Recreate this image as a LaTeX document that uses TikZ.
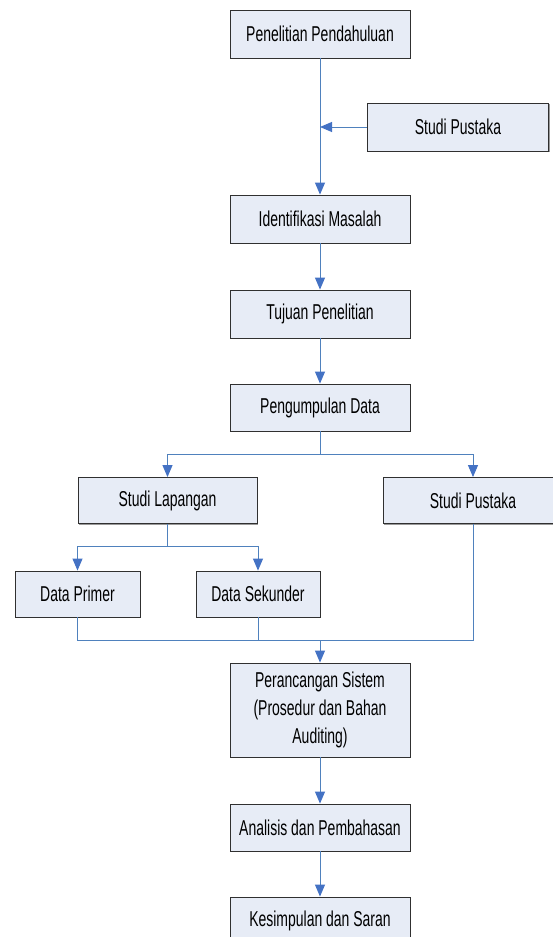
\documentclass[tikz,border=0pt]{standalone}
\usepackage{fontspec}
\setmainfont{Liberation Sans}[FakeStretch=0.65]
\usetikzlibrary{arrows.meta,shadows}
\definecolor{boxfill}{HTML}{E7ECF6}
\definecolor{linecol}{HTML}{4F81BD}
\definecolor{tipcol}{HTML}{4472C4}
\definecolor{edgecol}{HTML}{303030}
\tikzset{
  flowbox/.style={draw=edgecol, line width=0.9pt, fill=boxfill, minimum width=180pt, minimum height=48pt,
    inner sep=0pt, align=center, font=\fontsize{21.5}{28}\selectfont,
    drop shadow={shadow xshift=1.2pt, shadow yshift=-1.2pt, fill=gray!80, opacity=1}},
  conn/.style={draw=linecol, line width=1pt},
  arr/.style={conn, -{Triangle[length=12pt, width=10pt, fill=tipcol, color=tipcol]}},
}
\begin{document}
\begin{tikzpicture}[x=1pt, y=-1pt]
\clip (0,0) rectangle (553,937);
\fill[white] (0,0) rectangle (553,937);
\node[flowbox] (pp) at (320,34) {Penelitian Pendahuluan};
\node[flowbox, minimum width=181pt] (sp1) at (458,127) {Studi Pustaka};
\node[flowbox] (im) at (320,219) {Identifikasi Masalah};
\node[flowbox] (tp) at (320,314) {Tujuan Penelitian};
\node[flowbox, minimum height=47pt] (pd) at (320,407.5) {Pengumpulan Data};
\node[flowbox, minimum width=179pt, minimum height=46pt] (sl) at (167.5,500.5) {Studi Lapangan};
\node[flowbox, minimum height=46pt] (sp2) at (473,500.5) {Studi Pustaka};
\node[flowbox, minimum width=125pt, minimum height=46pt] (dp) at (77.5,594) {Data Primer};
\node[flowbox, minimum width=124pt, minimum height=46pt] (ds) at (258,594) {Data Sekunder};
\node[flowbox, minimum height=94pt] (ps) at (320,710) {Perancangan Sistem\\(Prosedur dan Bahan\\Auditing)};
\node[flowbox, minimum height=47pt] (ap) at (320,827.5) {Analisis dan Pembahasan};
\node[flowbox] (ks) at (320,921) {Kesimpulan dan Saran};

\coordinate (j1) at (320,127);
\coordinate (j2) at (320,454);
\coordinate (j3) at (167.5,546);
\coordinate (j4) at (320,640);

\draw[arr] (pp.south) -- (im.north);
\draw[arr] (sp1.west) -- (j1);
\draw[arr] (im.south) -- (tp.north);
\draw[arr] (tp.south) -- (pd.north);
\draw[conn] (pd.south) -- (j2);
\draw[arr] (j2) -| (sl.north);
\draw[arr] (j2) -| (sp2.north);
\draw[conn] (sl.south) -- (j3);
\draw[arr] (j3) -| (dp.north);
\draw[arr] (j3) -| (ds.north);
\draw[conn] (dp.south) |- (j4);
\draw[conn] (ds.south) |- (j4);
\draw[conn] (sp2.south) |- (j4);
\draw[arr] (j4) -- (ps.north);
\draw[arr] (ps.south) -- (ap.north);
\draw[arr] (ap.south) -- (ks.north);
\end{tikzpicture}
\end{document}
